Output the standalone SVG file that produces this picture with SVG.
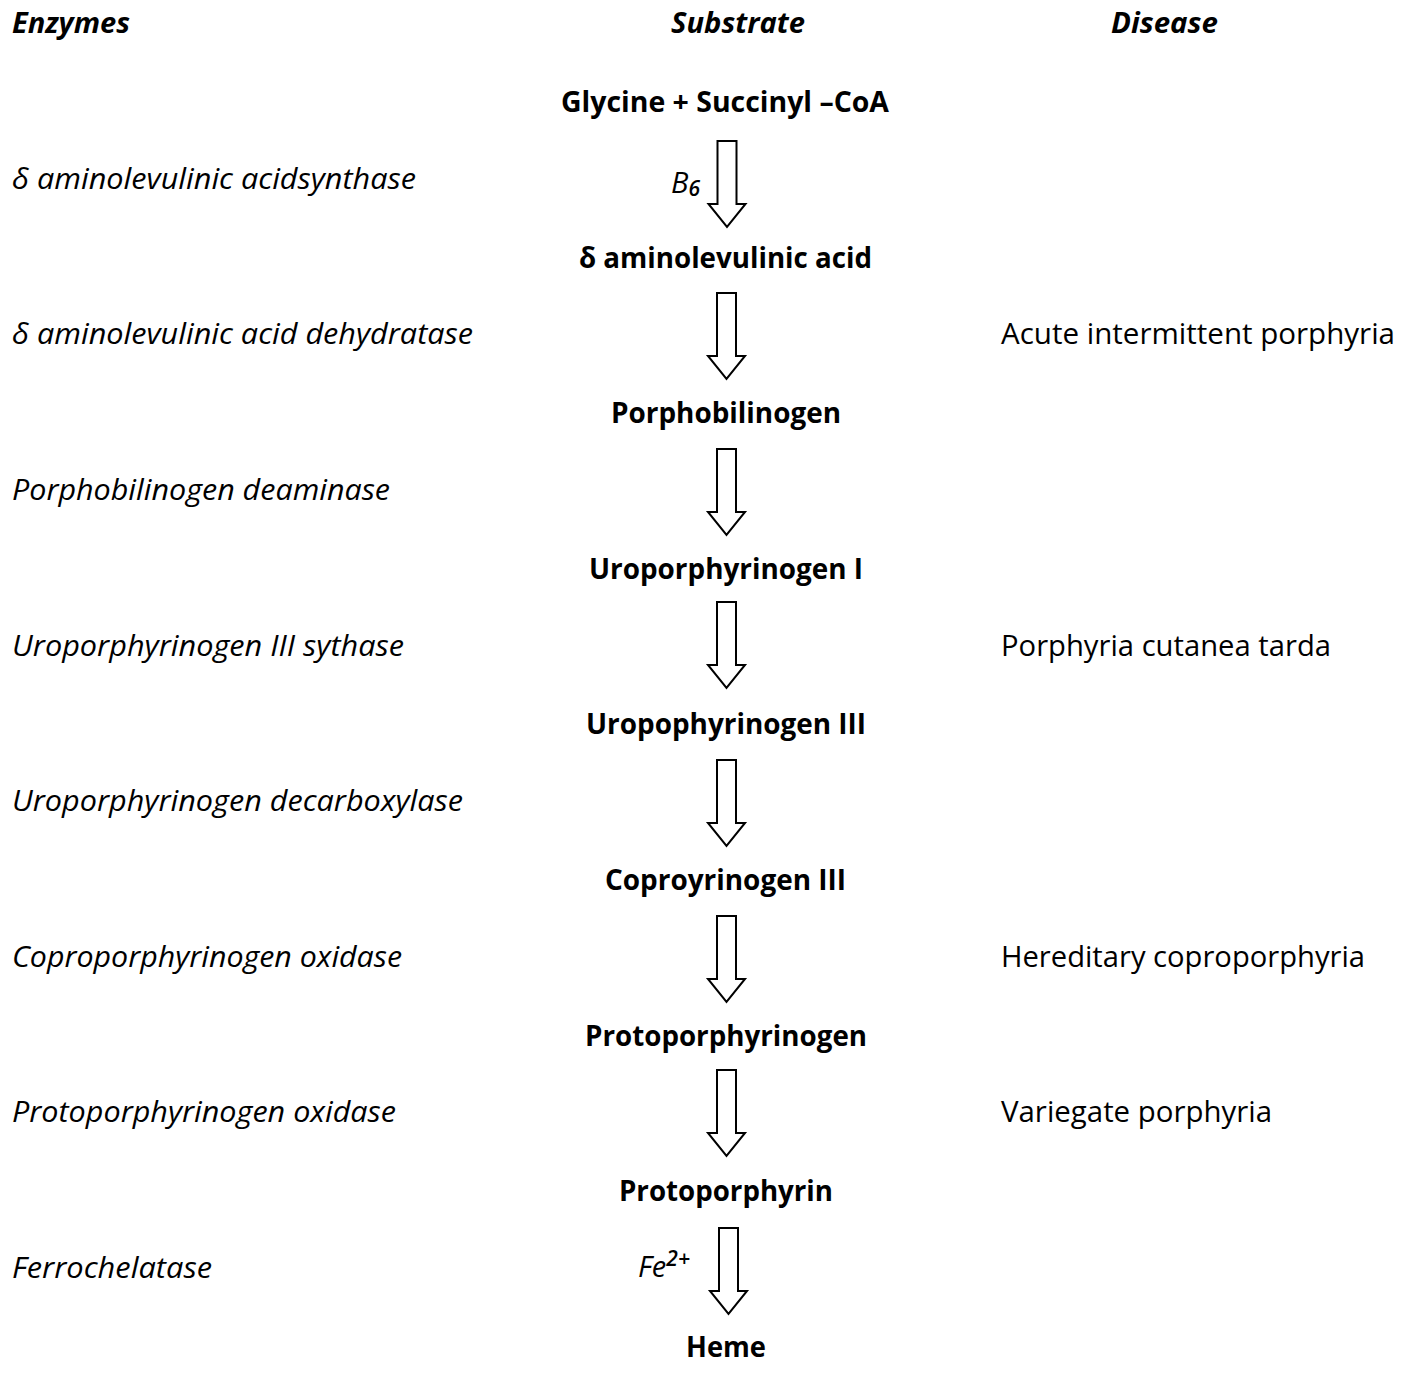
<svg xmlns="http://www.w3.org/2000/svg" xmlns:xlink="http://www.w3.org/1999/xlink" width="1417" height="1376" viewBox="0 0 1417 1376">
<style>
text { font-family: "Open Sans", "Noto Sans", "Liberation Sans", sans-serif; font-size: 29px; fill: #000; }
.hdr { font-weight: bold; font-style: italic; }
.sub { font-weight: bold; text-anchor: middle; }
.enz { font-style: italic; }
.dis { font-style: normal; }
.cof { font-style: italic; }
.script { font-weight: 600; }
.arrow { fill: #fff; stroke: #000; stroke-width: 2; stroke-linejoin: miter; }
</style>
<defs>
<path id="arr" class="arrow" d="M -9.5,0 H 9.5 V 63 H 18.5 L 0,86 L -18.5,63 H -9.5 Z"/>
</defs>
<rect width="1417" height="1376" fill="#fff"/>

<g id="headers">
<text class="hdr" x="12" y="33" textLength="118" lengthAdjust="spacingAndGlyphs">Enzymes</text>
<text class="hdr" x="671" y="33" textLength="134" lengthAdjust="spacingAndGlyphs">Substrate</text>
<text class="hdr" x="1111" y="33" textLength="107" lengthAdjust="spacingAndGlyphs">Disease</text>
</g>

<g id="connectors">
<use xlink:href="#arr" href="#arr" transform="translate(727,141)"/>
<use xlink:href="#arr" href="#arr" transform="translate(726.5,293)"/>
<use xlink:href="#arr" href="#arr" transform="translate(726.5,449)"/>
<use xlink:href="#arr" href="#arr" transform="translate(726.5,602)"/>
<use xlink:href="#arr" href="#arr" transform="translate(726.5,760)"/>
<use xlink:href="#arr" href="#arr" transform="translate(726.5,916)"/>
<use xlink:href="#arr" href="#arr" transform="translate(726.5,1070)"/>
<use xlink:href="#arr" href="#arr" transform="translate(728.5,1228)"/>
</g>

<g id="substrates">
<g id="s0"><text class="sub" x="725" y="112" textLength="328" lengthAdjust="spacingAndGlyphs">Glycine + Succinyl –CoA</text></g>
<g id="s1"><text class="sub" x="725.5" y="267.6" textLength="293" lengthAdjust="spacingAndGlyphs">δ aminolevulinic acid</text></g>
<g id="s2"><text class="sub" x="726" y="423.2" textLength="230" lengthAdjust="spacingAndGlyphs">Porphobilinogen</text></g>
<g id="s3"><text class="sub" x="726" y="578.8" textLength="274" lengthAdjust="spacingAndGlyphs">Uroporphyrinogen I</text></g>
<g id="s4"><text class="sub" x="726" y="734.4" textLength="280" lengthAdjust="spacingAndGlyphs">Uropophyrinogen III</text></g>
<g id="s5"><text class="sub" x="725.5" y="890" textLength="241" lengthAdjust="spacingAndGlyphs">Coproyrinogen III</text></g>
<g id="s6"><text class="sub" x="726" y="1045.6" textLength="282" lengthAdjust="spacingAndGlyphs">Protoporphyrinogen</text></g>
<g id="s7"><text class="sub" x="726" y="1201.2" textLength="214" lengthAdjust="spacingAndGlyphs">Protoporphyrin</text></g>
<g id="s8"><text class="sub" x="726" y="1356.8" textLength="80" lengthAdjust="spacingAndGlyphs">Heme</text></g>
</g>

<g id="enzymes">
<g id="e1"><text class="enz" x="12" y="189" textLength="404" lengthAdjust="spacingAndGlyphs">δ aminolevulinic acidsynthase</text></g>
<g id="e2"><text class="enz" x="12" y="344" textLength="461" lengthAdjust="spacingAndGlyphs">δ aminolevulinic acid dehydratase</text></g>
<g id="e3"><text class="enz" x="12" y="500" textLength="378" lengthAdjust="spacingAndGlyphs">Porphobilinogen deaminase</text></g>
<g id="e4"><text class="enz" x="12" y="655.5" textLength="392" lengthAdjust="spacingAndGlyphs">Uroporphyrinogen III sythase</text></g>
<g id="e5"><text class="enz" x="12" y="811" textLength="451" lengthAdjust="spacingAndGlyphs">Uroporphyrinogen decarboxylase</text></g>
<g id="e6"><text class="enz" x="12" y="966.5" textLength="390" lengthAdjust="spacingAndGlyphs">Coproporphyrinogen oxidase</text></g>
<g id="e7"><text class="enz" x="12" y="1122" textLength="384" lengthAdjust="spacingAndGlyphs">Protoporphyrinogen oxidase</text></g>
<g id="e8"><text class="enz" x="12" y="1277.5" textLength="200" lengthAdjust="spacingAndGlyphs">Ferrochelatase</text></g>
</g>

<g id="cofactors">
<g id="c1"><text class="cof" x="671" y="193" font-size="30">B<tspan class="script" font-size="21" dy="3">6</tspan></text></g>
<g id="c2"><text class="cof" x="638" y="1277" font-size="30">Fe<tspan class="script" font-size="21" dy="-11">2+</tspan></text></g>
</g>

<g id="diseases">
<g id="d2"><text class="dis" x="1001" y="344" textLength="394" lengthAdjust="spacingAndGlyphs">Acute intermittent porphyria</text></g>
<g id="d4"><text class="dis" x="1001" y="655.5" textLength="330" lengthAdjust="spacingAndGlyphs">Porphyria cutanea tarda</text></g>
<g id="d6"><text class="dis" x="1001" y="966.5" textLength="364" lengthAdjust="spacingAndGlyphs">Hereditary coproporphyria</text></g>
<g id="d7"><text class="dis" x="1001" y="1122" textLength="271" lengthAdjust="spacingAndGlyphs">Variegate porphyria</text></g>
</g>
</svg>
